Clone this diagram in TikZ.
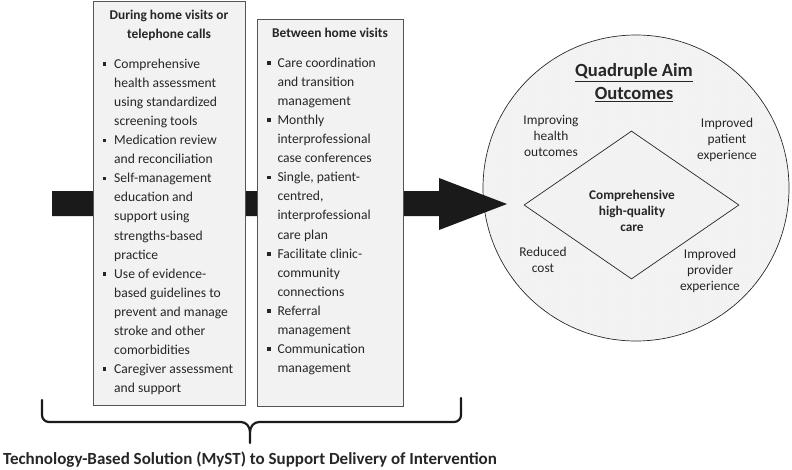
\documentclass[tikz,border=0pt]{standalone}
\usepackage{fontspec}
\setmainfont{Carlito}
\usetikzlibrary{shapes.geometric,patterns}
\definecolor{boxfill}{HTML}{F2F2F2}
\definecolor{boxline}{HTML}{555555}
\definecolor{circfill}{HTML}{F4F4F4}
\definecolor{arrowblk}{HTML}{1A1A1A}
\definecolor{txtcol}{HTML}{262626}
\begin{document}
\begin{tikzpicture}[x=1pt,y=-1pt,
  panel/.style={draw=boxline,fill=boxfill,line width=0.9pt},
  txt/.style={font=\fontsize{13.6}{16}\selectfont,inner sep=0pt,anchor=base west,text=txtcol},
  hdr/.style={font=\bfseries\fontsize{13.4}{16}\selectfont,inner sep=0pt,anchor=base,text=txtcol},
  bul/.style={fill=txtcol,inner sep=0pt,minimum size=3.6pt,draw=none},
  lab/.style={font=\fontsize{13.4}{16}\selectfont,align=center,inner sep=0pt,text=txtcol},
  blab/.style={font=\bfseries\fontsize{13.3}{16}\selectfont,align=center,inner sep=0pt,text=txtcol},
  brace/.style={line width=2.2pt,draw=arrowblk,line cap=round,line join=round}]
\useasboundingbox (0,0) rectangle (792,469);

% outcomes circle
\node[circle,draw=txtcol,line width=0.7pt,fill=circfill,minimum size=306pt,inner sep=0pt] (circ) at (636,188) {};
\fill[pattern=crosshatch dots,pattern color=gray!14] (636,188) circle (152.5pt);

% main arrow
\coordinate (as1) at (52,191);
\coordinate (as2) at (439,191);
\coordinate (ah1) at (439,178);
\coordinate (tip) at (507,204);
\coordinate (ah2) at (439,230);
\coordinate (as3) at (439,216);
\coordinate (as4) at (52,216);
\fill[arrowblk] (as1) -- (as2) -- (ah1) -- (tip) -- (ah2) -- (as3) -- (as4) -- cycle;

% panels
\node[panel,minimum width=152pt,minimum height=404pt,inner sep=0pt] (box1) at (169,203) {};
\node[panel,minimum width=146pt,minimum height=387pt,inner sep=0pt] (box2) at (330,212.5) {};

\node[hdr] (h1a) at (169,19) {During home visits or};
\node[hdr] (h1b) at (169,38.5) {telephone calls};
\node[hdr] (h2) at (330,37.5) {Between home visits};

\foreach \t [count=\i from 0] in {Comprehensive,health assessment,using standardized,screening tools,Medication review,and reconciliation,Self-management,education and,support using,strengths-based,practice,Use of evidence-,based guidelines to,prevent and manage,stroke and other,comorbidities,Caregiver assessment,and support}
  \node[txt] (ta\i) at (114,{68.5+19.06*\i}) {\t};
\foreach \i in {0,4,6,11,16}
  \node[bul] (ba\i) at (104.3,{68.5-4.4+19.06*\i}) {};

\foreach \t [count=\i from 0] in {Care coordination,and transition,management,Monthly,interprofessional,case conferences,{Single, patient-},{centred,},interprofessional,care plan,Facilitate clinic-,community,connections,Referral,management,Communication,management}
  \node[txt] (tb\i) at (277.3,{67.5+19.06*\i}) {\t};
\foreach \i in {0,3,6,10,13,15}
  \node[bul] (bb\i) at (269,{67.5-4.4+19.06*\i}) {};

% diamond and outcome labels
\node[diamond,draw=txtcol,line width=0.7pt,fill=boxfill,minimum width=215pt,minimum height=148pt,inner sep=0pt] (dia) at (631.5,205) {};
\node[blab] (chq) at (632,211) {Comprehensive\\high-quality\\care};
\node[blab,font=\bfseries\fontsize{18.6}{23}\selectfont] (qa) at (634,83) {\underline{Quadruple Aim}\\\underline{Outcomes}};
\node[lab] (iho) at (551,135.5) {Improving\\health\\outcomes};
\node[lab] (ipe) at (727,140) {Improved\\patient\\experience};
\node[lab] (rc) at (543,259.5) {Reduced\\cost};
\node[lab] (ipr) at (710,270.5) {Improved\\provider\\experience};

% brace
\coordinate (bl) at (42,400);
\coordinate (bc) at (250,443);
\coordinate (br) at (461,398);
\draw[brace] (bl) -- (42,415) to[out=-90,in=180] (49,422) -- (241,422) to[out=0,in=90] (250,432) -- (bc);
\draw[brace] (250,432) to[out=90,in=180] (259,422) -- (454,422) to[out=0,in=-90] (br |- 0,415) -- (br);

\node[hdr,font=\bfseries\fontsize{17}{20}\selectfont] (tech) at (bc |- 0,464.3) {Technology-Based Solution (MyST) to Support Delivery of Intervention};
\end{tikzpicture}
\end{document}
